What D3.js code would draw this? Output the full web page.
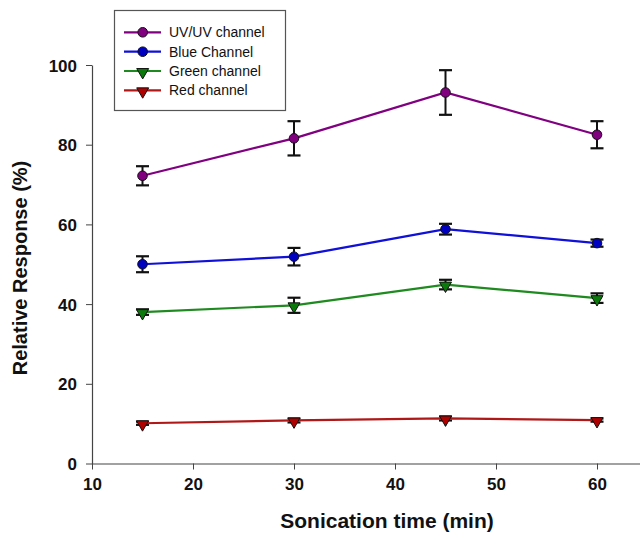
<!DOCTYPE html>
<html>
<head>
<meta charset="utf-8">
<script src="https://cdn.jsdelivr.net/npm/d3@7"></script>
<style>
  html, body { margin: 0; padding: 0; background: #fff; }
  svg { display: block; font-family: "Liberation Sans", Arial, sans-serif; }
</style>
</head>
<body>
<svg id="chart" width="640" height="536"></svg>
<script>
// Sonication time (min)
const times = [15, 30, 45, 60];

// Relative response (%) per detection channel, with error bar half-widths
const uvValues    = [72.2, 81.6, 93.1, 82.5];
const uvErrors    = [2.4, 4.3, 5.6, 3.4];
const blueValues  = [50.0, 51.9, 58.8, 55.3];
const blueErrors  = [2.0, 2.2, 1.35, 0.9];
const greenValues = [38.0, 39.7, 44.9, 41.5];
const greenErrors = [0.7, 1.9, 1.2, 1.2];
const redValues   = [10.1, 10.8, 11.3, 10.9];
const redErrors   = [0.4, 0.5, 0.5, 0.4];

const seriesNames = ["UV/UV channel", "Blue Channel", "Green channel", "Red channel"];
const xTicks = [10, 20, 30, 40, 50, 60];
const yTicks = [0, 20, 40, 60, 80, 100];

const series = [
  { name: seriesNames[0], values: uvValues,    errors: uvErrors,    line: "#800080", fill: "#800080", shape: "circle" },
  { name: seriesNames[1], values: blueValues,  errors: blueErrors,  line: "#1010d8", fill: "#0000c0", shape: "circle" },
  { name: seriesNames[2], values: greenValues, errors: greenErrors, line: "#1f8a1f", fill: "#0a7a0a", shape: "triangle" },
  { name: seriesNames[3], values: redValues,   errors: redErrors,   line: "#b01818", fill: "#b00000", shape: "triangle" }
];

const svg = d3.select("#chart");

const x = d3.scaleLinear().domain([10, 65]).range([92, 647.5]);
const y = d3.scaleLinear().domain([0, 100]).range([463.5, 65]);

// Axes
const xAxis = svg.append("g")
  .attr("transform", `translate(0,${y(0)})`)
  .call(d3.axisBottom(x).tickValues(xTicks).tickSize(6).tickPadding(8).tickSizeOuter(0));
const yAxis = svg.append("g")
  .attr("transform", `translate(${x(10)},0)`)
  .call(d3.axisLeft(y).tickValues(yTicks).tickSize(6).tickPadding(9).tickSizeOuter(0));

[xAxis, yAxis].forEach(g => {
  g.select(".domain").attr("stroke", "#444").attr("stroke-width", 1.2);
  g.selectAll(".tick line").attr("stroke", "#444").attr("stroke-width", 1);
  g.selectAll(".tick text")
    .attr("fill", "#111")
    .style("font-size", "17px")
    .style("font-weight", "bold")
    .style("font-family", "'Liberation Sans', Arial, sans-serif");
});
yAxis.selectAll(".tick text").attr("dy", "0.36em");

// Axis titles
svg.append("text")
  .attr("x", 387).attr("y", 528)
  .attr("text-anchor", "middle")
  .style("font-size", "21px").style("font-weight", "bold").attr("fill", "#111")
  .text("Sonication time (min)");
svg.append("text")
  .attr("transform", `translate(27,${268}) rotate(-90)`)
  .attr("text-anchor", "middle")
  .style("font-size", "20px").style("font-weight", "bold").attr("fill", "#111")
  .text("Relative Response (%)");

const line = d3.line().x(d => x(d.t)).y(d => y(d.v));
const triangle = d3.symbol().type(d3.symbolTriangle).size(62);

function drawMarker(g, s, cx, cy) {
  if (s.shape === "circle") {
    g.append("circle").attr("cx", cx).attr("cy", cy).attr("r", 4.8)
      .attr("fill", s.fill).attr("stroke", "#111").attr("stroke-width", 1);
  } else {
    g.append("path").attr("d", triangle())
      .attr("transform", `translate(${cx},${cy + 1}) rotate(180)`)
      .attr("fill", s.fill).attr("stroke", "#111").attr("stroke-width", 1);
  }
}

const plot = svg.append("g");
series.forEach(s => {
  const pts = times.map((t, i) => ({ t, v: s.values[i], e: s.errors[i] }));
  const g = plot.append("g");
  // Error bars
  pts.forEach(p => {
    const cx = x(p.t), top = y(p.v + p.e), bot = y(p.v - p.e);
    g.append("line").attr("x1", cx).attr("x2", cx).attr("y1", top).attr("y2", bot)
      .attr("stroke", "#111").attr("stroke-width", 2);
    [top, bot].forEach(yy => g.append("line")
      .attr("x1", cx - 6.5).attr("x2", cx + 6.5).attr("y1", yy).attr("y2", yy)
      .attr("stroke", "#111").attr("stroke-width", 2.2));
  });
  g.append("path").datum(pts).attr("d", line)
    .attr("fill", "none").attr("stroke", s.line).attr("stroke-width", 2.2);
  pts.forEach(p => drawMarker(g, s, x(p.t), y(p.v)));
});

// Legend
const legend = svg.append("g");
legend.append("rect").attr("x", 114.5).attr("y", 10.5).attr("width", 171).attr("height", 100)
  .attr("fill", "#fff").attr("stroke", "#555").attr("stroke-width", 1.2);
const rowY = [32.3, 51.7, 71, 90.3];
series.forEach((s, i) => {
  const ry = rowY[i];
  legend.append("line").attr("x1", 124).attr("x2", 161).attr("y1", ry).attr("y2", ry)
    .attr("stroke", s.line).attr("stroke-width", 2.2);
  drawMarker(legend, s, 142.7, ry);
  legend.append("text").attr("x", 169).attr("y", ry).attr("dy", "0.36em")
    .style("font-size", "14px").attr("fill", "#111").text(s.name);
});
</script>
</body>
</html>
